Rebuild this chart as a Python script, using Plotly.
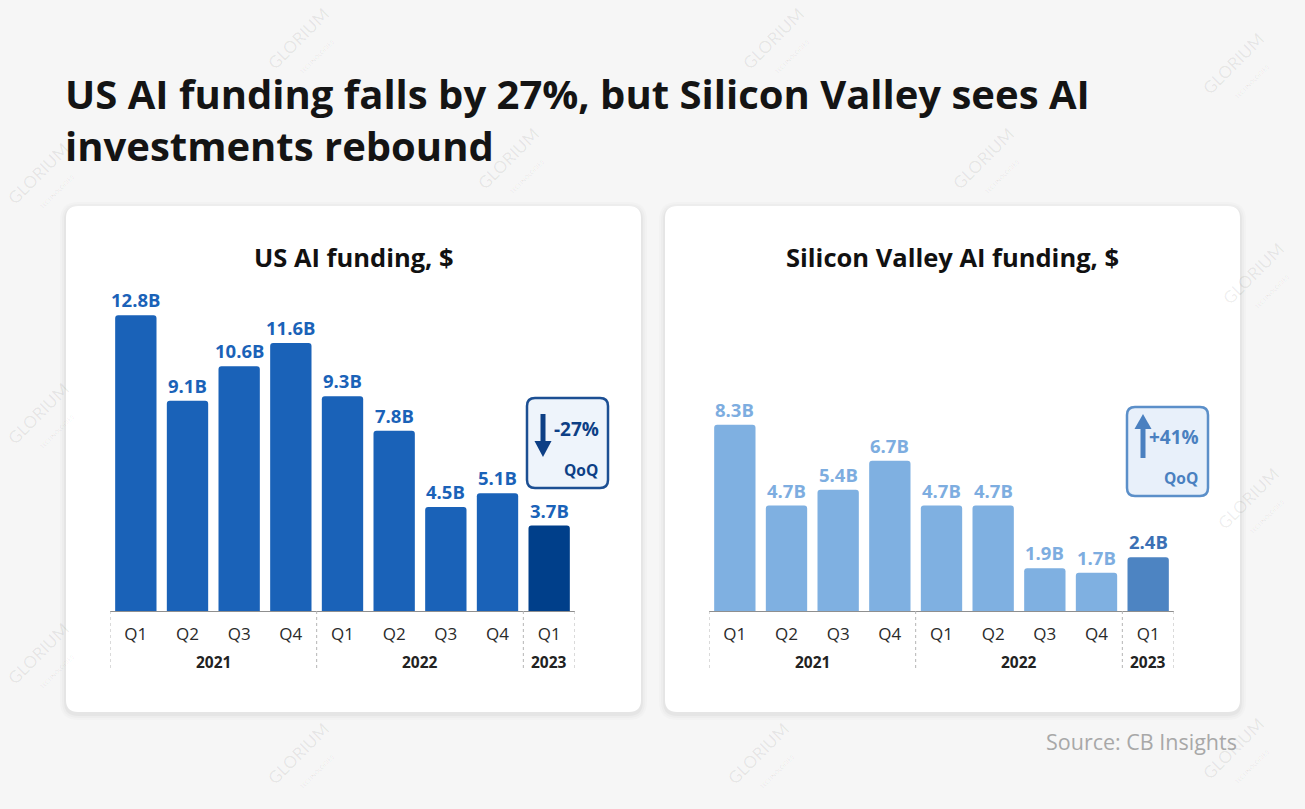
import plotly.graph_objects as go

# ---------------- data ----------------
quarters = ["Q1", "Q2", "Q3", "Q4", "Q1", "Q2", "Q3", "Q4", "Q1"]
quarter_years = ["2021", "2021", "2021", "2021", "2022", "2022", "2022", "2022", "2023"]
years = ["2021", "2022", "2023"]
us_funding = [12.8, 9.1, 10.6, 11.6, 9.3, 7.8, 4.5, 5.1, 3.7]
sv_funding = [8.3, 4.7, 5.4, 6.7, 4.7, 4.7, 1.9, 1.7, 2.4]
us_labels = ["12.8B", "9.1B", "10.6B", "11.6B", "9.3B", "7.8B", "4.5B", "5.1B", "3.7B"]
sv_labels = ["8.3B", "4.7B", "5.4B", "6.7B", "4.7B", "4.7B", "1.9B", "1.7B", "2.4B"]
us_change = "-27%"
sv_change = "+41%"
title_text = "US AI funding falls by 27%, but Silicon Valley sees AI<br>investments rebound"
chart_titles = ["US AI funding, $", "Silicon Valley AI funding, $"]
source_text = "Source: CB Insights"

# ---------------- layout helpers ----------------
W, H = 1305, 809
FONT = "Open Sans"
TFONT = "Open Sans"


def px(x):
    return x / W


def py(y):
    return 1 - y / H


def rrect(x0, y0, x1, y1, r):
    """rounded rectangle path in paper coords from pixel coords"""
    pts = [
        ("M", [(x0 + r, y0)]),
        ("L", [(x1 - r, y0)]),
        ("Q", [(x1, y0), (x1, y0 + r)]),
        ("L", [(x1, y1 - r)]),
        ("Q", [(x1, y1), (x1 - r, y1)]),
        ("L", [(x0 + r, y1)]),
        ("Q", [(x0, y1), (x0, y1 - r)]),
        ("L", [(x0, y0 + r)]),
        ("Q", [(x0, y0), (x0 + r, y0)]),
    ]
    s = ""
    for cmd, ps in pts:
        s += cmd + " " + " ".join(f"{px(a):.5f},{py(b):.5f}" for a, b in ps) + " "
    return s + "Z"


def poly(points):
    return "M " + " L ".join(f"{px(a):.5f},{py(b):.5f}" for a, b in points) + " Z"


n = len(quarters)
idx = list(range(n))

# panel geometry (pixels)
panels = [
    dict(card=(66, 206, 641, 712), ax=(110, 575), top=280, ymax=14.33,
         vals=us_funding, labels=us_labels,
         bar="#1a62b8", last_bar="#003f8a", lab="#1a62b8", last_lab="#1a62b8",
         box=(527, 398, 608, 488), box_line="#1c4f93", box_fill="#eef4fb",
         acc="#0d3f85", change=us_change, down=True, title=chart_titles[0]),
    dict(card=(665, 206, 1240, 712), ax=(709, 1174), top=280, ymax=14.75,
         vals=sv_funding, labels=sv_labels,
         bar="#7fb0e1", last_bar="#4d84c2", lab="#7dade0", last_lab="#3b70b5",
         box=(1127, 407, 1208, 496), box_line="#5b8fc9", box_fill="#e8f0fa",
         acc="#4a80c0", change=sv_change, down=False, title=chart_titles[1]),
]

BASE = 611

fig = go.Figure()
shapes = []
annotations = []

# watermarks (outside cards, kept inside the page)
wm_pos = [(45, 180), (305, 45), (515, 165), (780, 45), (990, 165), (1240, 70),
          (45, 420), (1260, 280), (45, 660), (1255, 505), (305, 760), (765, 760), (1240, 755)]
for (wx, wy) in wm_pos:
    annotations.append(dict(
        x=px(wx), y=py(wy), xref="paper", yref="paper", showarrow=False,
        xanchor="center", yanchor="middle",
        text="GLORIUM<br><span style='font-size:6px'>TECHNOLOGIES</span>",
        textangle=-45, font=dict(family="Lato", size=17, color="rgba(0,0,0,0.07)"),
    ))

for k, p in enumerate(panels):
    xa = "x" if k == 0 else "x2"
    ya = "y" if k == 0 else "y2"
    cx0, cy0, cx1, cy1 = p["card"]
    # shadow + card
    for grow, alpha in [(6, 0.015), (4, 0.02), (2, 0.03)]:
        shapes.append(dict(type="path", xref="paper", yref="paper", layer="below",
                           path=rrect(cx0 - grow, cy0 - grow + 2, cx1 + grow, cy1 + grow + 2, 12 + grow),
                           fillcolor=f"rgba(0,0,0,{alpha})", line=dict(width=0)))
    shapes.append(dict(type="path", xref="paper", yref="paper", layer="below",
                       path=rrect(cx0, cy0, cx1, cy1, 12),
                       fillcolor="white", line=dict(width=0)))

    colors = [p["bar"]] * (n - 1) + [p["last_bar"]]
    fig.add_trace(go.Bar(
        x=idx, y=p["vals"], xaxis=xa, yaxis=ya, width=0.8,
        marker=dict(color=colors, line=dict(width=0), cornerradius=3),
        hoverinfo="skip", showlegend=False,
    ))

    # value labels
    for i, (v, t) in enumerate(zip(p["vals"], p["labels"])):
        annotations.append(dict(
            x=i, y=v, xref=xa, yref=ya, text=f"<b>{t}</b>", showarrow=False,
            xanchor="center", yanchor="bottom", yshift=1,
            font=dict(family=FONT, size=18.5, color=p["last_lab"] if i == n - 1 else p["lab"]),
        ))

    # year labels & dotted separators
    bounds = [-0.5]
    for y in years:
        members = [i for i, qy in enumerate(quarter_years) if qy == y]
        annotations.append(dict(
            x=sum(members) / len(members), y=py(662), xref=xa, yref="paper",
            text=f"<b>{y}</b>", showarrow=False, xanchor="center", yanchor="middle",
            font=dict(family=FONT, size=15.5, color="#222222"),
        ))
        bounds.append(max(members) + 0.5)
    for b in bounds:
        shapes.append(dict(type="line", xref=xa, yref="paper", x0=b, x1=b,
                           y0=py(BASE), y1=py(670),
                           line=dict(color="#b5b5b5", width=1, dash="dot")))

    # chart title
    annotations.append(dict(
        x=px((cx0 + cx1) / 2), y=py(257), xref="paper", yref="paper",
        text=f"<b>{p['title']}</b>", showarrow=False, xanchor="center", yanchor="middle",
        font=dict(family=TFONT, size=25.5, color="#111111"),
    ))

    # QoQ box
    bx0, by0, bx1, by1 = p["box"]
    shapes.append(dict(type="path", xref="paper", yref="paper",
                       path=rrect(bx0, by0, bx1, by1, 8),
                       fillcolor=p["box_fill"], line=dict(color=p["box_line"], width=2.5)))
    ax_c = bx0 + 16
    if p["down"]:
        shaft = [(ax_c - 2.5, by0 + 16), (ax_c + 2.5, by0 + 16), (ax_c + 2.5, by0 + 44), (ax_c - 2.5, by0 + 44)]
        head = [(ax_c - 8.5, by0 + 43), (ax_c + 8.5, by0 + 43), (ax_c, by0 + 59)]
        ty = by0 + 31
    else:
        shaft = [(ax_c - 2.5, by0 + 20), (ax_c + 2.5, by0 + 20), (ax_c + 2.5, by0 + 51), (ax_c - 2.5, by0 + 51)]
        head = [(ax_c - 8.5, by0 + 22), (ax_c + 8.5, by0 + 22), (ax_c, by0 + 7)]
        ty = by0 + 30
    for pts in (shaft, head):
        shapes.append(dict(type="path", xref="paper", yref="paper", path=poly(pts),
                           fillcolor=p["acc"], line=dict(width=0)))
    annotations.append(dict(
        x=px(bx1 - 7), y=py(ty), xref="paper", yref="paper", xanchor="right", yanchor="middle",
        text=f"<b>{p['change']}</b>", showarrow=False,
        font=dict(family=FONT, size=19, color=p["acc"]),
    ))
    annotations.append(dict(
        x=px(bx1 - 8), y=py(by1 - 18), xref="paper", yref="paper", xanchor="right", yanchor="middle",
        text="<b>QoQ</b>", showarrow=False,
        font=dict(family=FONT, size=15.5, color=p["acc"]),
    ))

# main title
annotations.append(dict(
    x=px(63), y=py(64), xref="paper", yref="paper", xanchor="left", yanchor="top",
    align="left", text=f"<b>{title_text}</b>", showarrow=False,
    font=dict(family=TFONT, size=40, color="#141414"),
))
# source
annotations.append(dict(
    x=px(1239), y=py(741), xref="paper", yref="paper", xanchor="right", yanchor="middle",
    text=source_text, showarrow=False,
    font=dict(family=TFONT, size=21.5, color="#a8a8a8"),
))

axis_common = dict(
    tickmode="array", tickvals=idx, ticktext=quarters, range=[-0.5, n - 0.5],
    showgrid=False, zeroline=False, showline=True, linecolor="#8f8f8f", linewidth=1,
    ticks="", ticklabelstandoff=8,
    tickfont=dict(family=FONT, size=17, color="#2a2a2a"), fixedrange=True,
)
yaxis_common = dict(visible=False, showgrid=False, zeroline=False, fixedrange=True)

fig.update_layout(
    width=W, height=H,
    margin=dict(l=0, r=0, t=0, b=0),
    paper_bgcolor="#f6f6f6", plot_bgcolor="rgba(0,0,0,0)",
    bargap=0.2,
    xaxis=dict(domain=[px(panels[0]["ax"][0]), px(panels[0]["ax"][1])], anchor="y", **axis_common),
    yaxis=dict(domain=[py(BASE), py(panels[0]["top"])], range=[0, panels[0]["ymax"]], anchor="x", **yaxis_common),
    xaxis2=dict(domain=[px(panels[1]["ax"][0]), px(panels[1]["ax"][1])], anchor="y2", **axis_common),
    yaxis2=dict(domain=[py(BASE), py(panels[1]["top"])], range=[0, panels[1]["ymax"]], anchor="x2", **yaxis_common),
    shapes=shapes,
    annotations=annotations,
)

fig.write_html(
    "out.html",
    config={"displayModeBar": False, "staticPlot": True},
    post_script="document.body.style.margin='0';document.body.style.padding='0';document.body.style.background='#f6f6f6';",
)
